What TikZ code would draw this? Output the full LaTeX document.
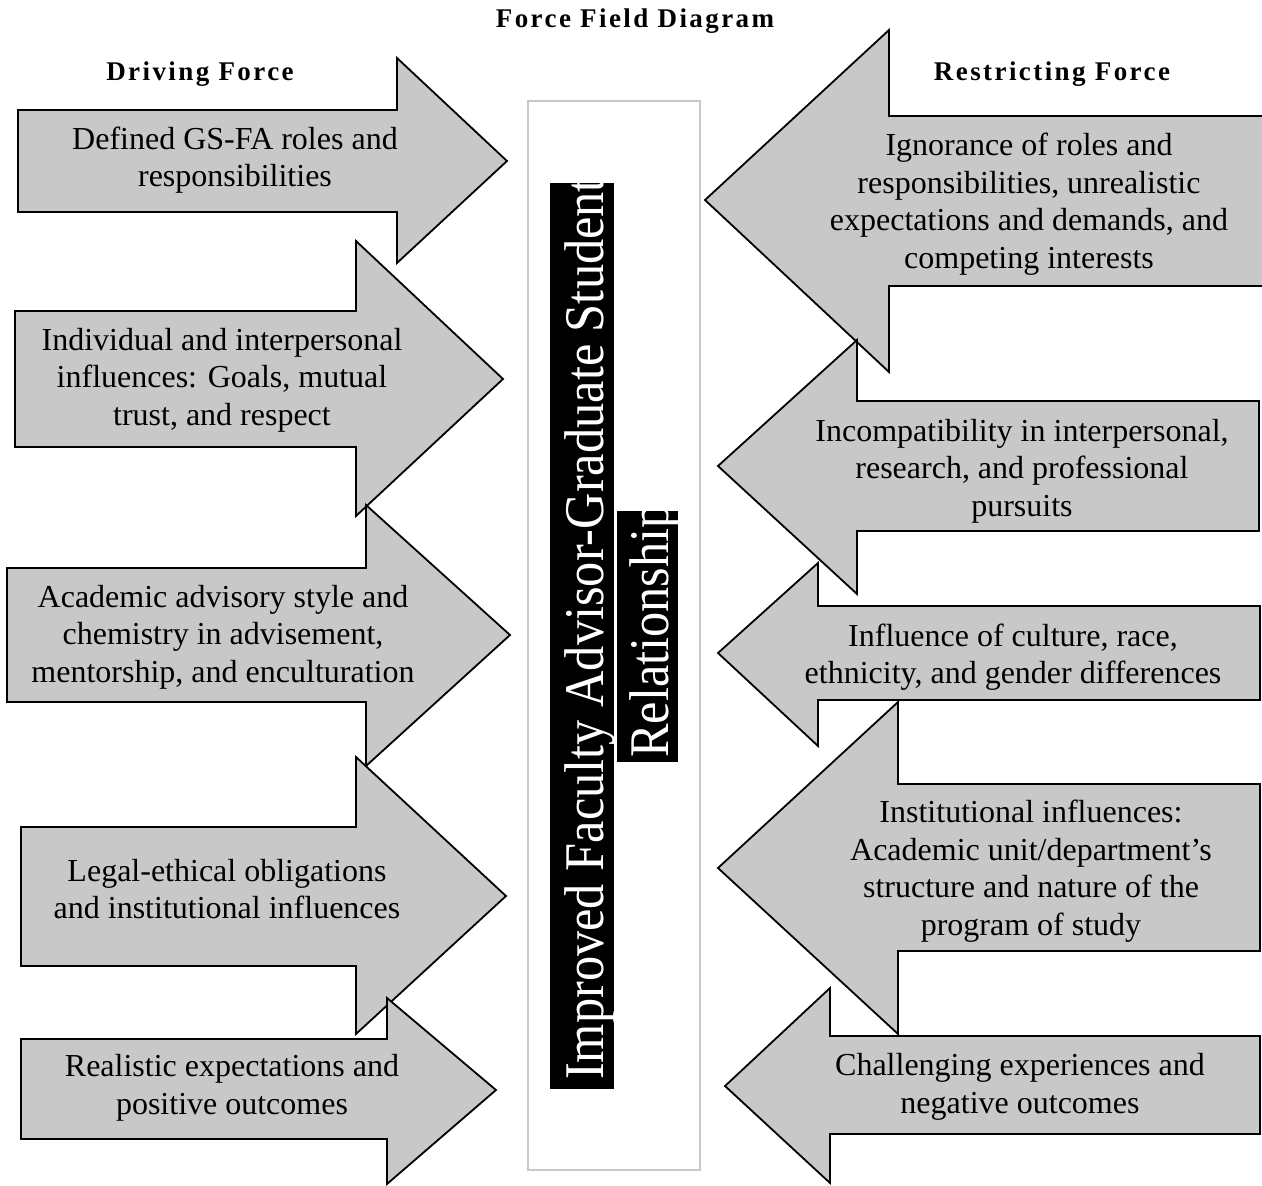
\documentclass[tikz,border=0pt]{standalone}
\usepackage{fontspec}
\setmainfont{Liberation Serif}
\newfontfamily\headfont[LetterSpace=9]{Liberation Serif}
\definecolor{arrowfill}{RGB}{200,200,200}
\definecolor{boxline}{RGB}{200,200,200}
\begin{document}
\begin{tikzpicture}[x=1pt,y=-1pt,
  arr/.style={draw=black, fill=arrowfill, line width=1.8pt, line join=miter},
  lbl/.style={align=center, inner sep=0pt, font=\fontsize{32}{37.5}\selectfont},
  head/.style={inner sep=0pt, font=\headfont\bfseries\fontsize{27}{30}\selectfont},
  vert/.style={rotate=90, anchor=base west, inner sep=0pt, text=white, font=\fontsize{56}{60}\selectfont}]
\useasboundingbox (0,0) rectangle (1262,1186);
% headers
\node[head] (title) at (635,21) {Force Field Diagram};
\node[head] (drv) at (200,74) {Driving Force};
\node[head] (res) at (1052,74) {Restricting Force};
% central box
\draw[draw=boxline, line width=2pt] (528,101) rectangle (700,1170);
\fill[black] (550,183) rectangle (614,1089);
\fill[black] (617,511) rectangle (678,762);
\node[vert] (goal) at (603,1080) {\scalebox{0.9}[1]{Improved Faculty Advisor-Graduate Student}};
\node[vert] (goal2) at (668,758) {\scalebox{0.9}[1]{Relationship}};
% driving arrows (pointing right)
\draw[arr] (18,110) -- (397,110) -- (397,58) -- (507,161) -- (397,263) -- (397,212) -- (18,212) -- cycle;
\draw[arr] (15,311) -- (356,311) -- (356,241) -- (503,379) -- (356,516) -- (356,447) -- (15,447) -- cycle;
\draw[arr] (7,568) -- (366,568) -- (366,505) -- (510,635) -- (366,766) -- (366,702) -- (7,702) -- cycle;
\draw[arr] (21,827) -- (356,827) -- (356,757) -- (506,896) -- (356,1034) -- (356,966) -- (21,966) -- cycle;
\draw[arr] (21,1039) -- (387,1039) -- (387,998) -- (496,1090) -- (387,1184) -- (387,1139) -- (21,1139) -- cycle;
% restricting arrows (pointing left)
\draw[arr] (1275,116) -- (889,116) -- (889,30) -- (705,200) -- (889,372) -- (889,286) -- (1275,286) -- cycle;
\draw[arr] (1259,401) -- (857,401) -- (857,340) -- (718,466) -- (857,594) -- (857,531) -- (1259,531) -- cycle;
\draw[arr] (1260,606) -- (818,606) -- (818,563) -- (718,653) -- (818,746) -- (818,700) -- (1260,700) -- cycle;
\draw[arr] (1260,784) -- (898,784) -- (898,702) -- (718,868) -- (898,1034) -- (898,951) -- (1260,951) -- cycle;
\draw[arr] (1260,1036) -- (830,1036) -- (830,988) -- (725,1086) -- (830,1183) -- (830,1134) -- (1260,1134) -- cycle;
% driving labels
\node[lbl] (d1) at (235,160) {Defined GS-FA roles and\\responsibilities};
\node[lbl] (d2) at (222,380) {Individual and interpersonal\\influences: Goals, mutual\\trust, and respect};
\node[lbl] (d3) at (223,637) {Academic advisory style and\\chemistry in advisement,\\mentorship, and enculturation};
\node[lbl] (d4) at (227,889) {Legal-ethical obligations\\and institutional influences};
\node[lbl] (d5) at (232,1088) {Realistic expectations and\\positive outcomes};
% restricting labels
\node[lbl] (r1) at (1029,204) {Ignorance of roles and\\responsibilities, unrealistic\\expectations and demands, and\\competing interests};
\node[lbl] (r2) at (1022,471) {Incompatibility in interpersonal,\\research, and professional\\pursuits};
\node[lbl] (r3) at (1013,657) {Influence of culture, race,\\ethnicity, and gender differences};
\node[lbl] (r4) at (1031,871) {Institutional influences:\\Academic unit/department’s\\structure and nature of the\\program of study};
\node[lbl] (r5) at (1020,1087) {Challenging experiences and\\negative outcomes};
\end{tikzpicture}
\end{document}
